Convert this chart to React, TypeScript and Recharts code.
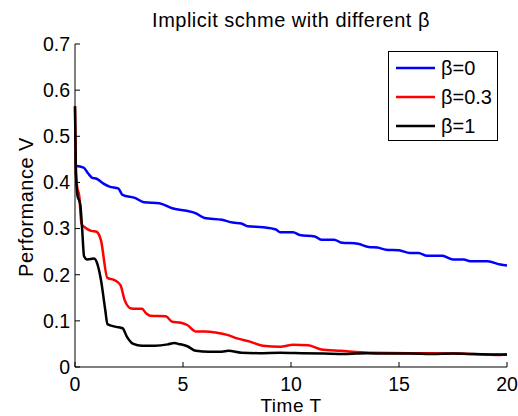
import React from 'react';
import { LineChart, Line, XAxis, YAxis, Legend, Label } from 'recharts';

const timeTicks = [0, 5, 10, 15, 20];
const perfTicks = [0, 0.1, 0.2, 0.3, 0.4, 0.5, 0.6, 0.7];

// beta = 0 (blue)
const beta0T = [0, 0.4, 0.6, 0.8, 1.0, 1.3, 1.6, 2.0, 2.2, 2.8, 3.2, 3.9, 4.5, 5.1, 5.6, 6.0, 6.8, 7.3, 7.7, 8.0, 8.7, 9.3, 9.5, 10.1, 10.4, 11.1, 11.4, 12.0, 12.3, 13.1, 13.6, 14.0, 14.4, 15.0, 15.5, 15.9, 16.3, 17.0, 17.5, 18.0, 18.3, 19.1, 19.7, 20];
const beta0V = [0.436, 0.432, 0.42, 0.41, 0.408, 0.398, 0.391, 0.387, 0.373, 0.366, 0.357, 0.355, 0.344, 0.339, 0.333, 0.323, 0.319, 0.313, 0.311, 0.305, 0.303, 0.298, 0.292, 0.292, 0.286, 0.283, 0.276, 0.276, 0.27, 0.267, 0.26, 0.259, 0.254, 0.253, 0.247, 0.247, 0.241, 0.241, 0.233, 0.233, 0.229, 0.229, 0.222, 0.22];

// beta = 0.3 (red)
const beta03T = [0, 0.04, 0.1, 0.2, 0.3, 0.45, 0.75, 1.0, 1.2, 1.5, 1.8, 2.1, 2.3, 2.6, 3.1, 3.3, 3.5, 4.2, 4.5, 4.9, 5.2, 5.6, 6.0, 6.5, 7.1, 7.5, 8.1, 8.7, 9.5, 10.1, 10.8, 11.4, 12.3, 13.6, 15.5, 16.4, 17.8, 19.7, 20];
const beta03V = [0.565, 0.42, 0.39, 0.37, 0.31, 0.303, 0.295, 0.293, 0.275, 0.193, 0.189, 0.178, 0.145, 0.127, 0.126, 0.116, 0.111, 0.11, 0.098, 0.096, 0.091, 0.077, 0.077, 0.075, 0.069, 0.062, 0.055, 0.046, 0.044, 0.048, 0.047, 0.038, 0.035, 0.031, 0.03, 0.03, 0.029, 0.026, 0.027];

// beta = 1 (black)
const beta1T = [0, 0.04, 0.12, 0.2, 0.25, 0.33, 0.42, 0.57, 0.88, 1.0, 1.2, 1.4, 1.5, 1.9, 2.2, 2.4, 2.7, 3.1, 3.7, 4.3, 4.6, 4.8, 5.2, 5.6, 6.2, 6.8, 7.1, 7.7, 8.5, 9.5, 10.5, 11.5, 12.5, 13.5, 14.5, 15.5, 16.5, 17.5, 18.5, 19.5, 20];
const beta1V = [0.565, 0.43, 0.37, 0.36, 0.35, 0.3, 0.24, 0.233, 0.235, 0.228, 0.189, 0.124, 0.093, 0.087, 0.084, 0.066, 0.05, 0.046, 0.046, 0.049, 0.052, 0.05, 0.045, 0.035, 0.033, 0.033, 0.035, 0.031, 0.03, 0.031, 0.03, 0.029, 0.028, 0.03, 0.029, 0.029, 0.028, 0.029, 0.028, 0.027, 0.027];

const toPoints = (t: number[], v: number[]) => t.map((x, i) => ({ t: x, v: v[i] }));

const SERIES = [
  { key: 'b0', name: 'β=0', color: '#0000ff', data: toPoints(beta0T, beta0V) },
  { key: 'b03', name: 'β=0.3', color: '#ff0000', data: toPoints(beta03T, beta03V) },
  { key: 'b1', name: 'β=1', color: '#000000', data: toPoints(beta1T, beta1V) },
];

const FONT = '"Liberation Sans", Arial, Helvetica, sans-serif';
const tickStyle = { fill: '#000', fontSize: 19.5, fontFamily: FONT };

const renderLegend = () => (
  <div
    style={{
      boxSizing: 'border-box',
      width: 110,
      height: 90,
      border: '1px solid #000',
      background: '#fff',
      paddingTop: 1,
      fontFamily: FONT,
    }}
  >
    {SERIES.map((s) => (
      <div key={s.key} style={{ display: 'flex', alignItems: 'center', height: 29 }}>
        <svg width={52} height={10}>
          <line x1={7} x2={46} y1={5} y2={5} stroke={s.color} strokeWidth={2.5} />
        </svg>
        <span style={{ fontSize: 20, color: '#000', lineHeight: '20px' }}>{s.name}</span>
      </div>
    ))}
  </div>
);

export default function App() {
  return (
    <div style={{ position: 'absolute', left: 0, top: 0, width: 518, height: 416, background: '#fff', fontFamily: FONT }}>
      <div
        style={{
          position: 'absolute',
          left: 75,
          width: 432,
          top: 10,
          textAlign: 'center',
          fontSize: 20,
          lineHeight: '20px',
          letterSpacing: 0.5,
          color: '#000',
        }}
      >
        Implicit schme with different β
      </div>
      <LineChart width={518} height={416} data={SERIES[0].data} margin={{ top: 44, right: 11, bottom: 0, left: 0 }}>
        <XAxis
          dataKey="t"
          type="number"
          domain={[0, 20]}
          ticks={timeTicks}
          height={49}
          tickSize={-5}
          tickMargin={15}
          tick={tickStyle}
          axisLine={{ stroke: '#000' }}
          tickLine={{ stroke: '#000' }}
        >
          <Label
            content={({ viewBox }: any) => (
              <text
                x={viewBox.x + viewBox.width / 2}
                y={viewBox.y + 44.5}
                textAnchor="middle"
                fontSize={19}
                letterSpacing={0.5}
                fontFamily={FONT}
                fill="#000"
              >
                Time T
              </text>
            )}
          />
        </XAxis>
        <XAxis
          xAxisId="top"
          orientation="top"
          type="number"
          domain={[0, 20]}
          ticks={timeTicks}
          height={0}
          tickSize={-5}
          tick={false}
          axisLine={{ stroke: '#000' }}
          tickLine={{ stroke: '#000' }}
        />
        <YAxis
          type="number"
          domain={[0, 0.7]}
          ticks={perfTicks}
          width={75}
          tickSize={-5}
          tickMargin={10}
          tick={tickStyle}
          tickFormatter={(v: number) => (v === 0 ? '0' : String(v))}
          axisLine={{ stroke: '#000' }}
          tickLine={{ stroke: '#000' }}
        >
          <Label
            content={({ viewBox }: any) => {
              const x = viewBox.x + 33;
              const y = viewBox.y + viewBox.height / 2 + 1.5;
              return (
                <text
                  x={x}
                  y={y}
                  transform={`rotate(-90, ${x}, ${y})`}
                  textAnchor="middle"
                  fontSize={20}
                  letterSpacing={0.5}
                  fontFamily={FONT}
                  fill="#000"
                >
                  Performance V
                </text>
              );
            }}
          />
        </YAxis>
        <YAxis
          yAxisId="right"
          orientation="right"
          type="number"
          domain={[0, 0.7]}
          ticks={perfTicks}
          width={0}
          tickSize={-5}
          tick={false}
          axisLine={{ stroke: '#000' }}
          tickLine={{ stroke: '#000' }}
        />
        {SERIES.map((s) => (
          <Line
            key={s.key}
            data={s.data}
            dataKey="v"
            name={s.name}
            type="monotone"
            stroke={s.color}
            strokeWidth={2.5}
            dot={false}
            isAnimationActive={false}
          />
        ))}
        <Legend
          layout="horizontal"
          verticalAlign="middle"
          align="center"
          content={renderLegend}
          wrapperStyle={{ position: 'absolute', left: 388, top: 51, width: 110, height: 90 }}
        />
      </LineChart>
    </div>
  );
}
